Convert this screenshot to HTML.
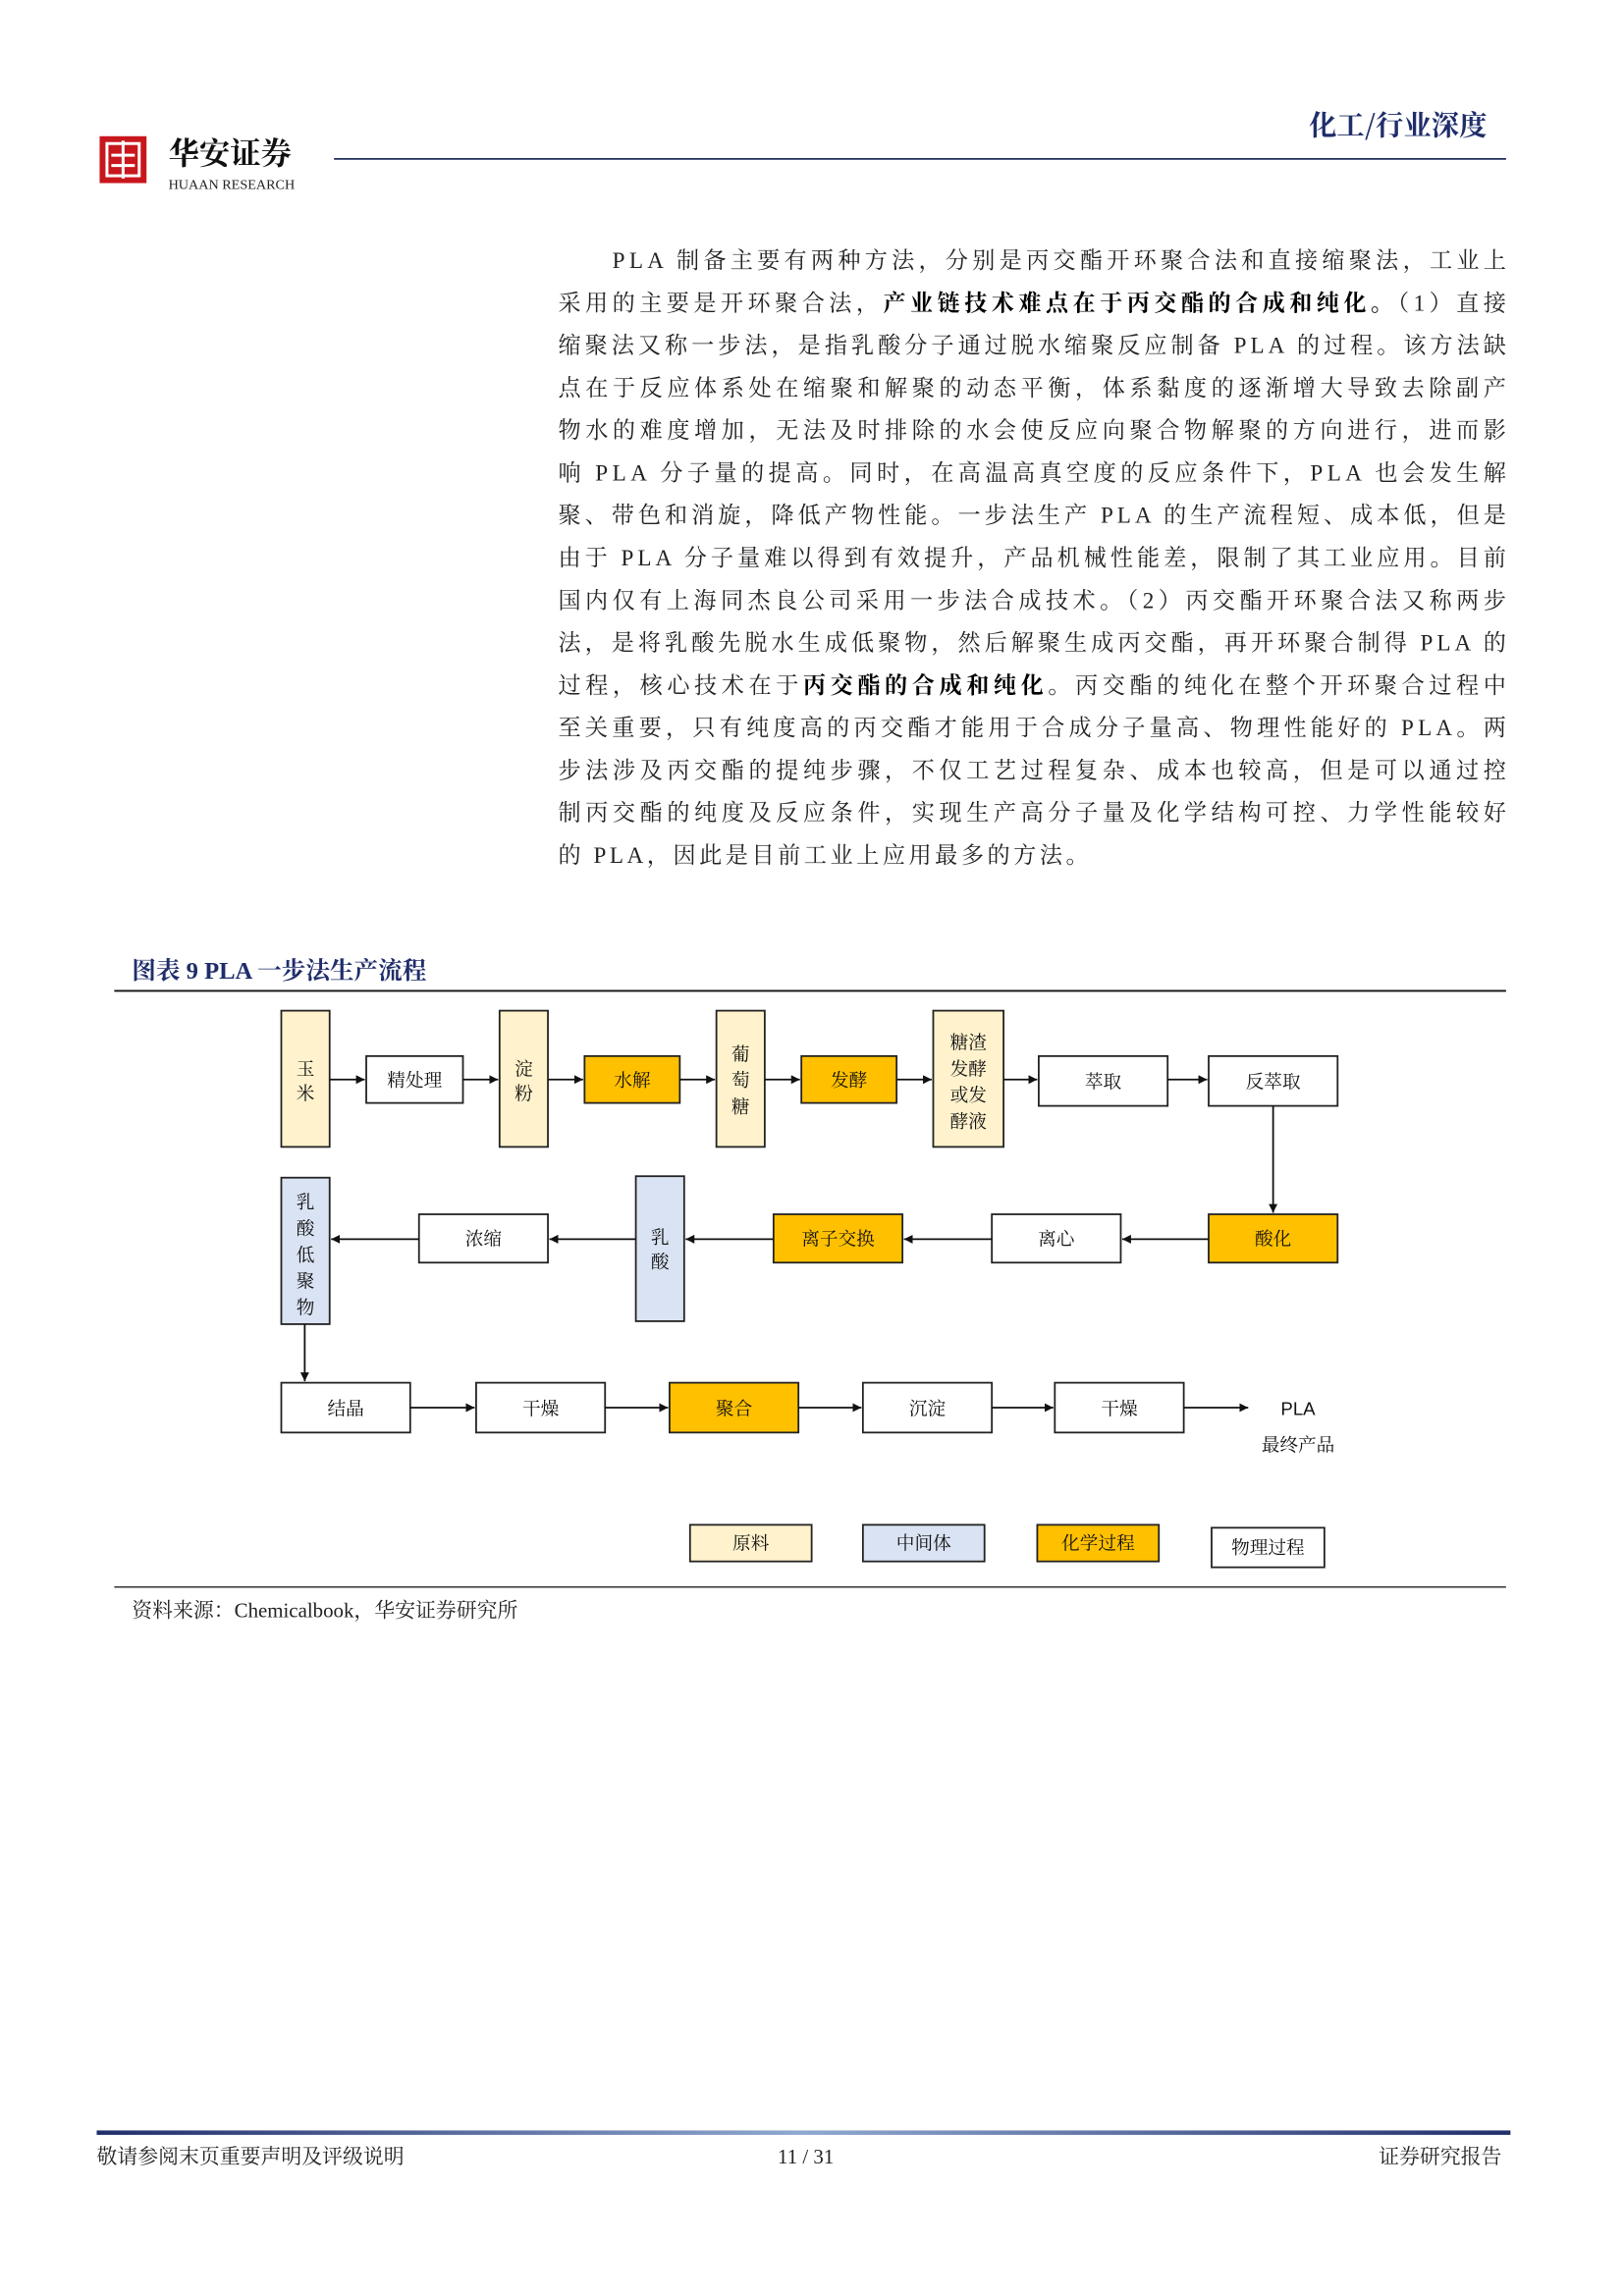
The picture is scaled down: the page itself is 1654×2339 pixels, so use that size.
<!DOCTYPE html>
<html><head><meta charset="utf-8"><style>
html,body{margin:0;padding:0;background:#fff;}
svg{display:block;}
.p{font-family:"Liberation Serif","Noto Serif CJK SC",serif;font-size:15.5px;fill:#222;}
.b{font-weight:bold;fill:#000;}
.d{font-family:"Liberation Serif","Noto Serif CJK SC",serif;font-size:12.5px;fill:#111;text-anchor:middle;}
</style></head><body>
<svg width="1654" height="2339" viewBox="0 0 1108.5 1567.5" preserveAspectRatio="none" xmlns="http://www.w3.org/2000/svg">
<defs><marker id="a" markerWidth="8" markerHeight="8" refX="6" refY="3" orient="auto" markerUnits="userSpaceOnUse"><path d="M0,0 L6,3 L0,6 z" fill="#111"/></marker></defs>
<!-- header -->
<rect x="68" y="93" width="32" height="32" fill="#c8161d"/>
<rect x="73" y="98" width="22" height="22" fill="none" stroke="#fff" stroke-width="2"/>
<path d="M84,96 V122 M76,106 H92 M76,113 H92" stroke="#fff" stroke-width="2"/>
<text x="115" y="112" style="font-family:'Noto Serif CJK SC',serif;font-size:21px;font-weight:bold;fill:#111">华安证券</text>
<text x="115" y="129" style="font-family:'Liberation Serif',serif;font-size:9.5px;fill:#222">HUAAN RESEARCH</text>
<line x1="228" y1="108.5" x2="1028" y2="108.5" stroke="#1f2d5a" stroke-width="1.2"/>
<text x="1015" y="92" text-anchor="end" style="font-family:'Noto Serif CJK SC',serif;font-size:19px;font-weight:bold;fill:#1f2d6a">化工/行业深度</text>
<!-- paragraph -->
<g class="p">
<text x="418" y="183" textLength="610" lengthAdjust="spacing">PLA 制备主要有两种方法，分别是丙交酯开环聚合法和直接缩聚法，工业上</text>
<text x="381" y="212" textLength="647" lengthAdjust="spacing">采用的主要是开环聚合法，<tspan class="b">产业链技术难点在于丙交酯的合成和纯化。</tspan>（1）直接</text>
<text x="381" y="241" textLength="647" lengthAdjust="spacing">缩聚法又称一步法，是指乳酸分子通过脱水缩聚反应制备 PLA 的过程。该方法缺</text>
<text x="381" y="270" textLength="647" lengthAdjust="spacing">点在于反应体系处在缩聚和解聚的动态平衡，体系黏度的逐渐增大导致去除副产</text>
<text x="381" y="299" textLength="647" lengthAdjust="spacing">物水的难度增加，无法及时排除的水会使反应向聚合物解聚的方向进行，进而影</text>
<text x="381" y="328" textLength="647" lengthAdjust="spacing">响 PLA 分子量的提高。同时，在高温高真空度的反应条件下，PLA 也会发生解</text>
<text x="381" y="357" textLength="647" lengthAdjust="spacing">聚、带色和消旋，降低产物性能。一步法生产 PLA 的生产流程短、成本低，但是</text>
<text x="381" y="386" textLength="647" lengthAdjust="spacing">由于 PLA 分子量难以得到有效提升，产品机械性能差，限制了其工业应用。目前</text>
<text x="381" y="415" textLength="647" lengthAdjust="spacing">国内仅有上海同杰良公司采用一步法合成技术。（2）丙交酯开环聚合法又称两步</text>
<text x="381" y="444" textLength="647" lengthAdjust="spacing">法，是将乳酸先脱水生成低聚物，然后解聚生成丙交酯，再开环聚合制得 PLA 的</text>
<text x="381" y="473" textLength="647" lengthAdjust="spacing">过程，核心技术在于<tspan class="b">丙交酯的合成和纯化</tspan>。丙交酯的纯化在整个开环聚合过程中</text>
<text x="381" y="502" textLength="647" lengthAdjust="spacing">至关重要，只有纯度高的丙交酯才能用于合成分子量高、物理性能好的 PLA。两</text>
<text x="381" y="531" textLength="647" lengthAdjust="spacing">步法涉及丙交酯的提纯步骤，不仅工艺过程复杂、成本也较高，但是可以通过控</text>
<text x="381" y="560" textLength="647" lengthAdjust="spacing">制丙交酯的纯度及反应条件，实现生产高分子量及化学结构可控、力学性能较好</text>
<text x="381" y="589" textLength="362" lengthAdjust="spacing">的 PLA，因此是目前工业上应用最多的方法。</text>
</g>
<!-- figure title -->
<text x="90" y="668" style="font-family:'Liberation Serif','Noto Serif CJK SC',serif;font-size:16.5px;font-weight:bold;fill:#1f2d6a">图表 9 PLA 一步法生产流程</text>
<line x1="78" y1="676.5" x2="1028" y2="676.5" stroke="#111" stroke-width="1.3"/>
<!-- diagram boxes -->
<g stroke="#222" stroke-width="1.2">
<rect x="192" y="690" width="33" height="93" fill="#fff2cc"/>
<rect x="250" y="721" width="66" height="32" fill="#fff"/>
<rect x="341" y="690" width="33" height="93" fill="#fff2cc"/>
<rect x="399" y="721" width="65" height="32" fill="#ffc000"/>
<rect x="489" y="690" width="33" height="93" fill="#fff2cc"/>
<rect x="547" y="721" width="65" height="32" fill="#ffc000"/>
<rect x="637" y="690" width="48" height="93" fill="#fff2cc"/>
<rect x="709" y="721" width="88" height="34" fill="#fff"/>
<rect x="825" y="721" width="88" height="34" fill="#fff"/>
<rect x="192" y="804" width="33" height="100" fill="#dae3f3"/>
<rect x="286" y="829" width="88" height="33" fill="#fff"/>
<rect x="434" y="803" width="33" height="99" fill="#dae3f3"/>
<rect x="528" y="829" width="88" height="33" fill="#ffc000"/>
<rect x="677" y="829" width="88" height="33" fill="#fff"/>
<rect x="825" y="829" width="88" height="33" fill="#ffc000"/>
<rect x="192" y="944" width="88" height="34" fill="#fff"/>
<rect x="325" y="944" width="88" height="34" fill="#fff"/>
<rect x="457" y="944" width="88" height="34" fill="#ffc000"/>
<rect x="589" y="944" width="88" height="34" fill="#fff"/>
<rect x="720" y="944" width="88" height="34" fill="#fff"/>
<rect x="471" y="1041" width="83" height="25" fill="#fff2cc"/>
<rect x="589" y="1041" width="83" height="25" fill="#dae3f3"/>
<rect x="708" y="1041" width="83" height="25" fill="#ffc000"/>
<rect x="827" y="1043" width="77" height="27" fill="#fff"/>
</g>
<!-- arrows -->
<g stroke="#111" stroke-width="1.2" marker-end="url(#a)">
<line x1="225" y1="737" x2="249" y2="737"/>
<line x1="316" y1="737" x2="340" y2="737"/>
<line x1="374" y1="737" x2="398" y2="737"/>
<line x1="464" y1="737" x2="488" y2="737"/>
<line x1="522" y1="737" x2="546" y2="737"/>
<line x1="612" y1="737" x2="636" y2="737"/>
<line x1="685" y1="737" x2="708" y2="737"/>
<line x1="797" y1="737" x2="824" y2="737"/>
<line x1="869" y1="755" x2="869" y2="828"/>
<line x1="825" y1="846" x2="766" y2="846"/>
<line x1="677" y1="846" x2="617" y2="846"/>
<line x1="528" y1="846" x2="468" y2="846"/>
<line x1="434" y1="846" x2="375" y2="846"/>
<line x1="286" y1="846" x2="226" y2="846"/>
<line x1="208" y1="904" x2="208" y2="943"/>
<line x1="280" y1="961" x2="324" y2="961"/>
<line x1="413" y1="961" x2="456" y2="961"/>
<line x1="545" y1="961" x2="588" y2="961"/>
<line x1="677" y1="961" x2="719" y2="961"/>
<line x1="808" y1="961" x2="852" y2="961"/>
</g>
<!-- labels -->
<g class="d">
<text x="208.5" y="734">玉</text><text x="208.5" y="751">米</text>
<text x="283" y="742">精处理</text>
<text x="357.5" y="734">淀</text><text x="357.5" y="751">粉</text>
<text x="431.5" y="742">水解</text>
<text x="505.5" y="724">葡</text><text x="505.5" y="742">萄</text><text x="505.5" y="760">糖</text>
<text x="579.5" y="742">发酵</text>
<text x="661" y="716">糖渣</text><text x="661" y="734">发酵</text><text x="661" y="752">或发</text><text x="661" y="770">酵液</text>
<text x="753" y="743">萃取</text>
<text x="869" y="743">反萃取</text>
<text x="208.5" y="825">乳</text><text x="208.5" y="843">酸</text><text x="208.5" y="861">低</text><text x="208.5" y="879">聚</text><text x="208.5" y="897">物</text>
<text x="330" y="850">浓缩</text>
<text x="450.5" y="849">乳</text><text x="450.5" y="866">酸</text>
<text x="572" y="850">离子交换</text>
<text x="721" y="850">离心</text>
<text x="869" y="850">酸化</text>
<text x="236" y="966">结晶</text>
<text x="369" y="966">干燥</text>
<text x="501" y="966">聚合</text>
<text x="633" y="966">沉淀</text>
<text x="764" y="966">干燥</text>
<text x="886" y="966" style="font-family:'Liberation Sans',sans-serif">PLA</text>
<text x="886" y="991">最终产品</text>
<text x="512.5" y="1058">原料</text>
<text x="630.5" y="1058">中间体</text>
<text x="749.5" y="1058">化学过程</text>
<text x="865.5" y="1061">物理过程</text>
</g>
<line x1="78" y1="1083.5" x2="1028" y2="1083.5" stroke="#333" stroke-width="1"/>
<text x="90" y="1104" style="font-family:'Liberation Serif','Noto Serif CJK SC',serif;font-size:14px;fill:#222">资料来源：Chemicalbook，华安证券研究所</text>
<!-- footer -->
<defs><linearGradient id="g" x1="0" x2="1"><stop offset="0" stop-color="#1f2d6a"/><stop offset="0.5" stop-color="#8fa8d0"/><stop offset="1" stop-color="#1f2d6a"/></linearGradient></defs>
<rect x="66" y="1454.5" width="965" height="3" fill="url(#g)"/>
<g style="font-family:'Liberation Serif','Noto Serif CJK SC',serif;font-size:14px;fill:#222">
<text x="66" y="1477">敬请参阅末页重要声明及评级说明</text>
<text x="550" y="1477" text-anchor="middle">11 / 31</text>
<text x="1025" y="1477" text-anchor="end">证券研究报告</text>
</g>
</svg>
</body></html>
